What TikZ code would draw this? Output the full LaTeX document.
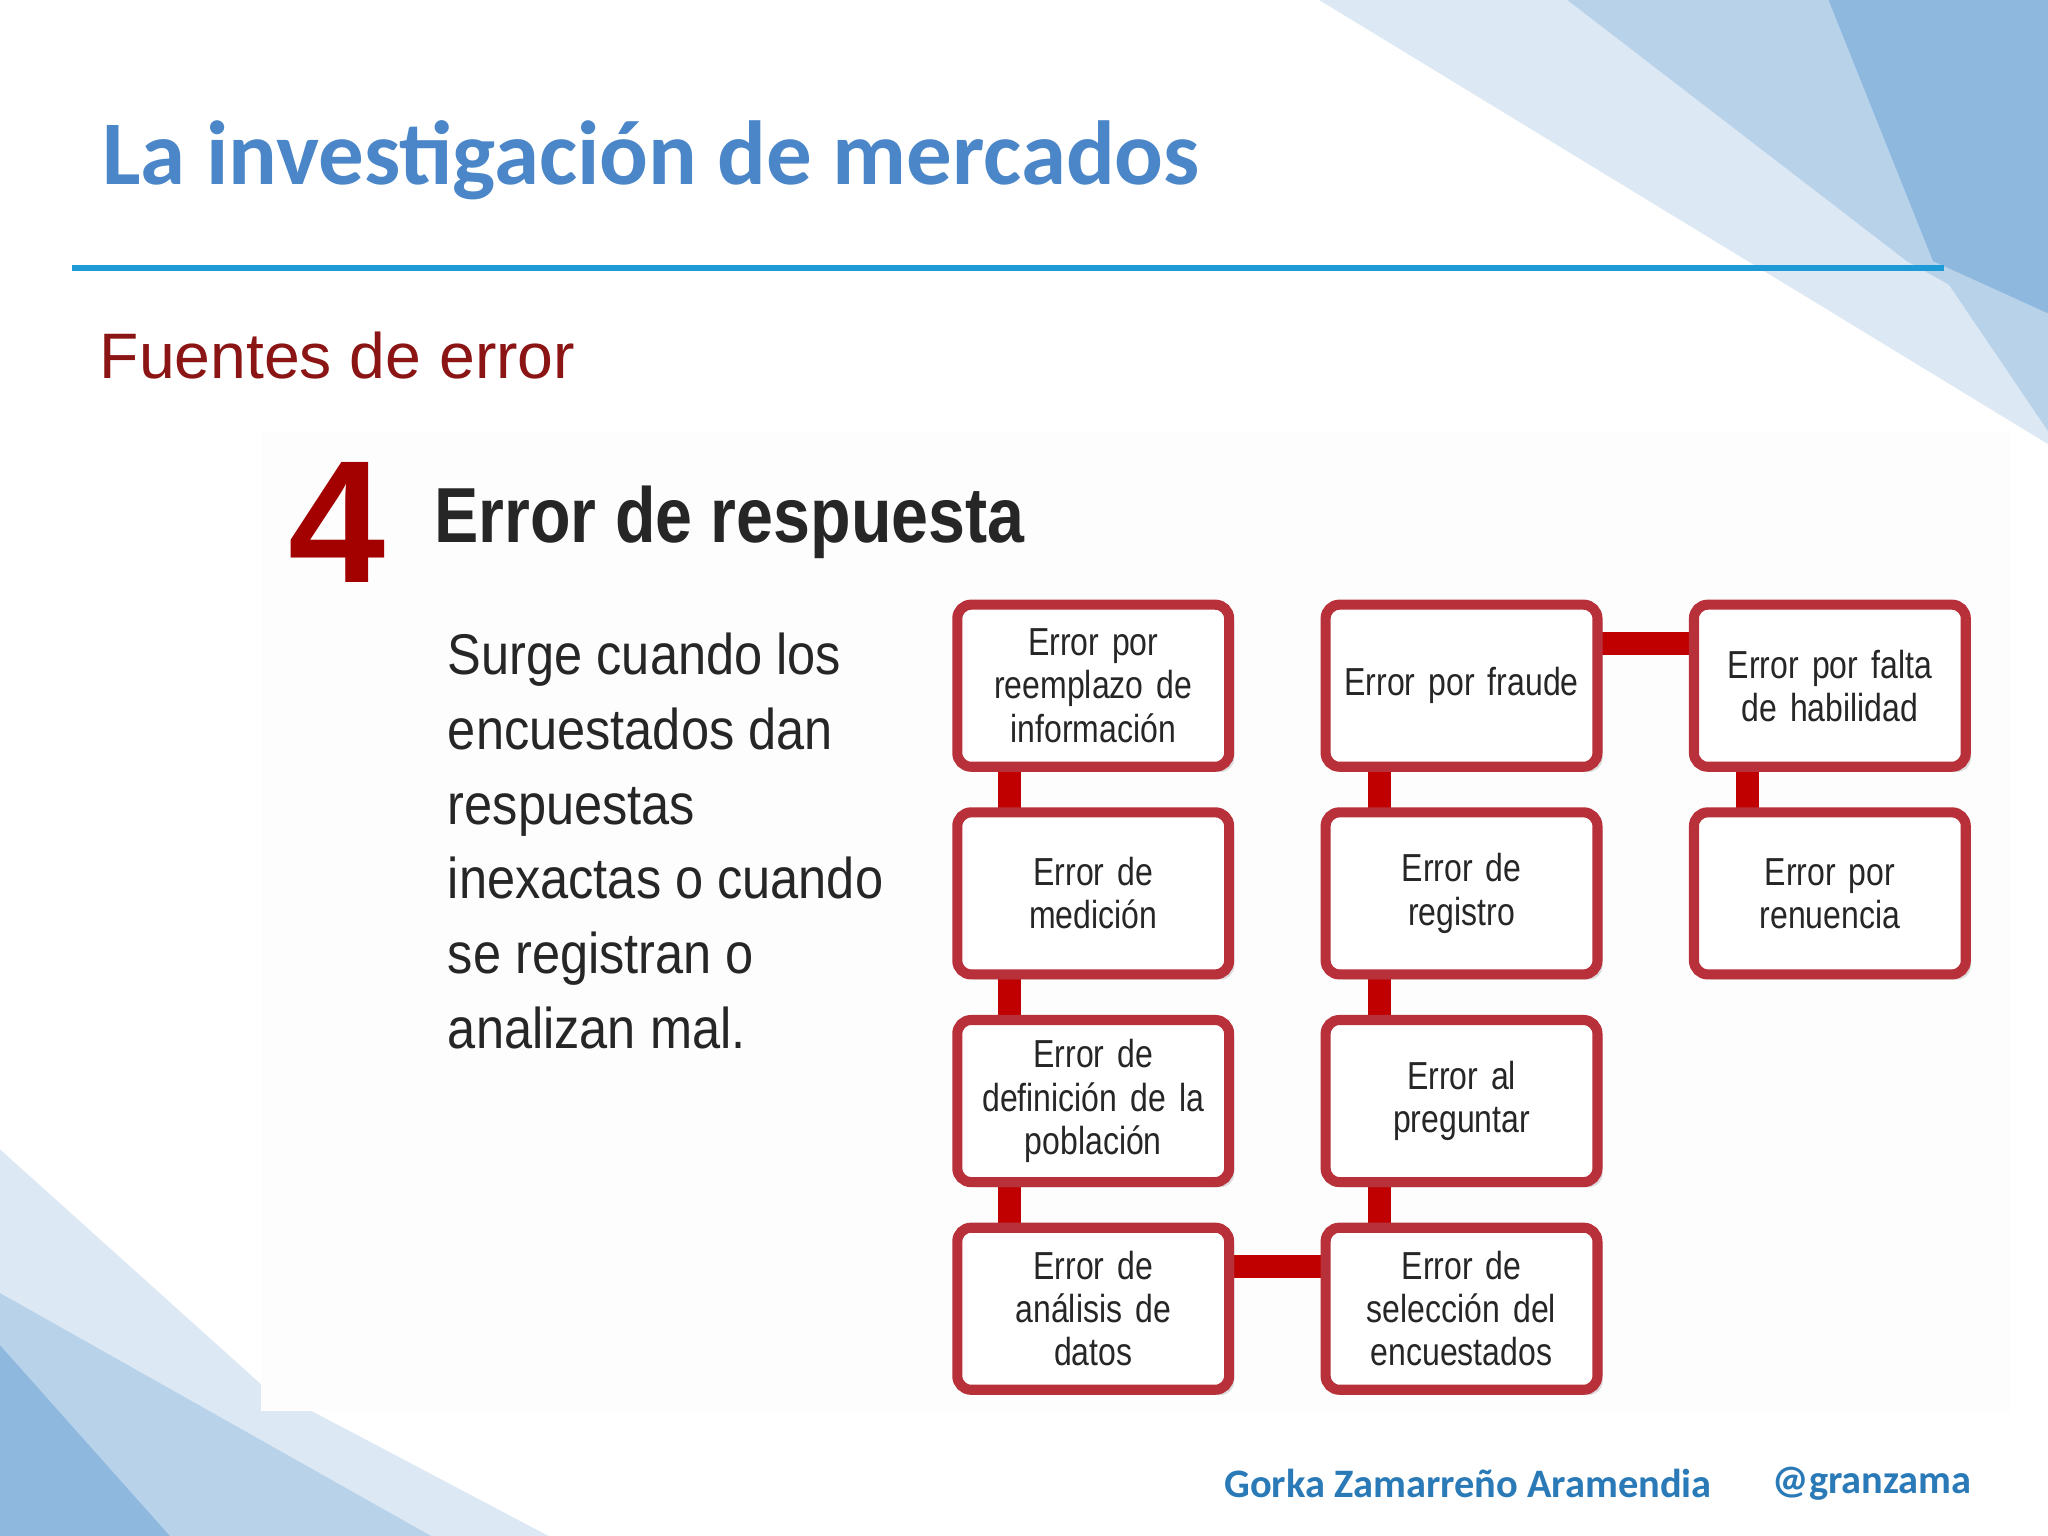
\documentclass[tikz,border=0pt]{standalone}
\usepackage{fontspec}
\setmainfont{Liberation Sans}
\newfontfamily\calfnt{Carlito}
\newfontfamily\narrowfnt[FakeStretch=0.82]{Liberation Sans}
\usetikzlibrary{shadows}
\definecolor{ttl}{HTML}{4A86C8}
\definecolor{dred}{HTML}{8B1414}
\definecolor{bred}{HTML}{B8313A}
\definecolor{cred}{HTML}{C00000}
\definecolor{lb1}{HTML}{DCE8F4}
\definecolor{lb2}{HTML}{B8D2EA}
\definecolor{lb3}{HTML}{8FB8DE}
\definecolor{rule}{HTML}{1E9BD7}
\definecolor{foot}{HTML}{2A7AB8}
\tikzset{ebox/.style={draw=bred,line width=2.2pt,rounded corners=3pt,fill=white,minimum width=2.08cm,text width=1.9cm,inner sep=1pt,minimum height=1.24cm,align=center,text=black!85,font=\narrowfnt\fontsize{8.5}{9.4}\selectfont,drop shadow={opacity=0.25,shadow xshift=0.4mm,shadow yshift=-0.4mm}},
conn/.style={cred,line width=5pt}}
\begin{document}
\begin{tikzpicture}[x=0.01cm,y=-0.01cm]
\useasboundingbox (0,0) rectangle (1568,1176);
\fill[white] (0,0) rectangle (1568,1176);
% background triangles
\fill[lb1] (1010,0) -- (1568,0) -- (1568,340) -- cycle;
\fill[lb2] (1200,0) -- (1568,0) -- (1568,260) -- (1460,200) -- cycle;
\fill[lb3] (1400,0) -- (1568,0) -- (1568,280) -- (1480,200) -- cycle;
\fill[lb2] (1480,200) -- (1568,240) -- (1568,330) -- cycle;
\fill[lb1] (0,880) -- (0,1176) -- (420,1176) -- (200,1060) -- cycle;
\fill[lb2] (0,990) -- (0,1176) -- (330,1176) -- cycle;
\fill[lb3] (0,1030) -- (0,1176) -- (130,1176) -- cycle;
\fill[gray!1.5] (200,330) rectangle (1540,1080);
% title
\node[anchor=west,text=ttl,font=\calfnt\bfseries\fontsize{19.8}{22}\selectfont] (t) at (66,123) {La investigación de mercados};
\draw[rule,line width=1.3pt] (55,205) -- (1488,205);
\node[anchor=west,text=dred,font=\fontsize{14}{16}\selectfont] (s) at (64,272) {Fuentes de error};
\node[anchor=center,text=cred!85!black,font=\bfseries\fontsize{38}{40}\selectfont] (n4) at (258,400) {4};
\node[anchor=west,text=black!85,font=\bfseries\fontsize{17}{19}\selectfont,xscale=0.85] (h) at (322,400) {Error de respuesta};
\node[anchor=north west,align=left,text=black!85,font=\fontsize{12.5}{16.3}\selectfont,xscale=0.88] (p) at (332,472) {Surge cuando los\\encuestados dan\\respuestas\\inexactas o cuando\\se registran o\\analizan mal.};
% connectors
\draw[conn] (773,525) -- (773,1002);
\draw[conn] (1056,525) -- (1056,1002);
\draw[conn] (1338,525) -- (1338,684);
\draw[conn] (1119,493) -- (1401,493);
\draw[conn] (837,970) -- (1119,970);
% boxes
\node[ebox] (a1) at (837,525) {Error por\\reemplazo de\\información};
\node[ebox] (a2) at (837,684) {Error de\\medición};
\node[ebox] (a3) at (837,843) {Error de\\definición de la\\población};
\node[ebox] (a4) at (837,1002) {Error de\\análisis de\\datos};
\node[ebox] (b1) at (1119,525) {Error por fraude};
\node[ebox] (b2) at (1119,684) {Error de\\registro};
\node[ebox] (b3) at (1119,843) {Error al\\preguntar};
\node[ebox] (b4) at (1119,1002) {Error de\\selección del\\encuestados};
\node[ebox] (d1) at (1401,525) {Error por falta\\de habilidad};
\node[ebox] (d2) at (1401,684) {Error por\\renuencia};
% footer
\node[anchor=west,text=foot,font=\calfnt\bfseries\fontsize{8.8}{10}\selectfont] (f1) at (925,1136) {Gorka Zamarreño Aramendia};
\node[anchor=east,text=foot,font=\calfnt\bfseries\fontsize{8.8}{10}\selectfont] (f2) at (1522,1136) {@granzama};
\end{tikzpicture}
\end{document}
